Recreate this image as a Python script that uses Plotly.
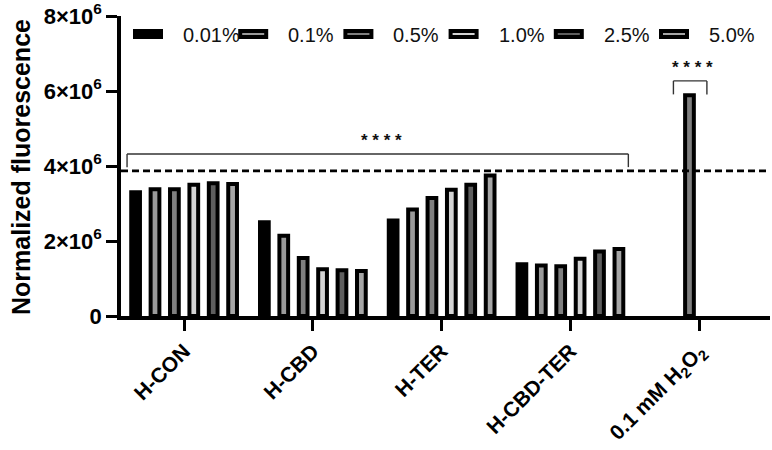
import plotly.graph_objects as go

categories = ["H-CON", "H-CBD", "H-TER", "H-CBD-TER", "H2O2"]
category_labels = ["H-CON", "H-CBD", "H-TER", "H-CBD-TER", "0.1 mM H<sub>2</sub>O<sub>2</sub>"]
series_names = ["0.01%", "0.1%", "0.5%", "1.0%", "2.5%", "5.0%"]

s_001 = [3.30e6, 2.50e6, 2.55e6, 1.38e6, None]
s_01 = [3.38e6, 2.14e6, 2.84e6, 1.35e6, None]
s_05 = [3.38e6, 1.55e6, 3.15e6, 1.33e6, 5.89e6]
s_10 = [3.50e6, 1.25e6, 3.37e6, 1.53e6, None]
s_25 = [3.54e6, 1.22e6, 3.50e6, 1.72e6, None]
s_50 = [3.52e6, 1.20e6, 3.75e6, 1.79e6, None]
series_values = [s_001, s_01, s_05, s_10, s_25, s_50]

fill_colors = ["#000000", "#9a9a9a", "#7f7f7f", "#d4d4d4", "#5e5e5e", "#a6a6a6"]

y_tickvals = [0, 2e6, 4e6, 6e6, 8e6]
y_ticktext = ["0", "2×10<sup>6</sup>", "4×10<sup>6</sup>", "6×10<sup>6</sup>", "8×10<sup>6</sup>"]

threshold = 3.87e6
sig_label = "* * * *"

W, H = 772, 450
ML, MR, MT, MB = 121, 2, 16, 134
PW, PH = W - ML - MR, H - MT - MB


def px_x(x):
    return (x - ML) / PW


def px_y(y):
    return (H - MB - y) / PH


fig = go.Figure()
for name, vals, col in zip(series_names, series_values, fill_colors):
    fig.add_trace(go.Bar(
        x=categories, y=vals, name=name,
        marker=dict(color=col, line=dict(color="#000000", width=4)),
        showlegend=False,
    ))

font_family = "Liberation Sans, Arial, sans-serif"

shapes = []
annotations = []

# dashed reference line
shapes.append(dict(type="line", xref="paper", x0=0, x1=1, yref="y", y0=threshold, y1=threshold,
                   line=dict(color="#000000", width=2.8, dash="7px,4px")))

# significance bracket 1
b1 = dict(x0=-0.443, x1=3.45, ytop=4.32e6, ybot=3.97e6)
for seg in [(b1["x0"], b1["ytop"], b1["x1"], b1["ytop"]),
            (b1["x0"], b1["ytop"], b1["x0"], b1["ybot"]),
            (b1["x1"], b1["ytop"], b1["x1"], b1["ybot"])]:
    shapes.append(dict(type="line", xref="x", yref="y", x0=seg[0], y0=seg[1], x1=seg[2], y1=seg[3],
                       line=dict(color="#333333", width=1.4)))
annotations.append(dict(x=1.53, y=4.69e6, xref="x", yref="y", text=sig_label, showarrow=False,
                        font=dict(family=font_family, size=17, color="#111111", weight="bold")))

# significance bracket 2
b2 = dict(x0=3.80, x1=4.06, ytop=6.27e6, ybot=5.91e6)
for seg in [(b2["x0"], b2["ytop"], b2["x1"], b2["ytop"]),
            (b2["x0"], b2["ytop"], b2["x0"], b2["ybot"]),
            (b2["x1"], b2["ytop"], b2["x1"], b2["ybot"])]:
    shapes.append(dict(type="line", xref="x", yref="y", x0=seg[0], y0=seg[1], x1=seg[2], y1=seg[3],
                       line=dict(color="#333333", width=1.4)))
annotations.append(dict(x=3.95, y=6.64e6, xref="x", yref="y", text=sig_label, showarrow=False,
                        font=dict(family=font_family, size=17, color="#111111", weight="bold")))

# manual legend
leg_start, leg_step = 135, 105.2
for i, (name, col) in enumerate(zip(series_names, fill_colors)):
    x0 = leg_start + i * leg_step
    shapes.append(dict(type="rect", xref="paper", yref="paper",
                       x0=px_x(x0), x1=px_x(x0 + 26), y0=px_y(37), y1=px_y(31),
                       fillcolor=col, line=dict(color="#000000", width=4)))
    annotations.append(dict(x=px_x(x0 + 47), y=px_y(35.5), xref="paper", yref="paper",
                            xanchor="left", yanchor="middle", text=name, showarrow=False,
                            borderpad=0,
                            font=dict(family=font_family, size=20, color="#111111")))

# y-axis title
annotations.append(dict(x=px_x(21), y=px_y(167), xref="paper", yref="paper", text="Normalized fluorescence",
                        textangle=-90, showarrow=False, xanchor="center", yanchor="middle",
                        font=dict(family=font_family, size=25, color="#000000", weight="bold")))

fig.update_layout(
    width=W, height=H,
    margin=dict(l=ML, r=MR, t=MT, b=MB, pad=0, autoexpand=False),
    paper_bgcolor="white", plot_bgcolor="white",
    barmode="group", bargap=0.096, bargroupgap=0.55,
    shapes=shapes, annotations=annotations,
    showlegend=False,
    font=dict(family=font_family, color="#000000"),
)
fig.update_xaxes(
    type="category", categoryorder="array", categoryarray=categories,
    range=[-0.49, 4.55], automargin=False,
    tickvals=categories, ticktext=category_labels,
    tickangle=-45,
    showline=True, linecolor="#000000", linewidth=3.5,
    ticks="outside", ticklen=11, tickwidth=3, tickcolor="#000000",
    showgrid=False, zeroline=False,
    tickfont=dict(family=font_family, size=21, color="#000000", weight="bold"),
)
fig.update_yaxes(
    range=[0, 8e6], automargin=False,
    tickvals=y_tickvals, ticktext=y_ticktext,
    showline=True, linecolor="#000000", linewidth=3.5,
    ticks="outside", ticklen=11, tickwidth=3, tickcolor="#000000",
    showgrid=False, zeroline=False,
    tickfont=dict(family=font_family, size=22, color="#000000", weight="bold"),
)

fig.write_html(
    "out.html",
    config={"displayModeBar": False},
    post_script="document.body.style.margin='0';document.body.style.overflow='hidden';",
)
